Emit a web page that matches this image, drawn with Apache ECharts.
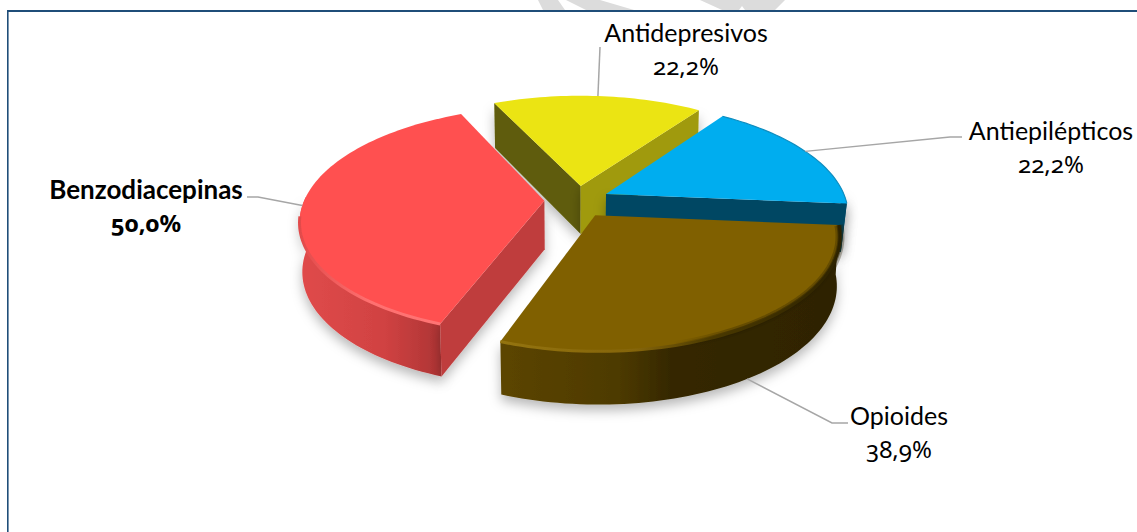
<!DOCTYPE html>
<html><head><meta charset="utf-8">
<style>
html,body{margin:0;padding:0;background:#fff}
#c{width:1137px;height:532px}
svg text{font-variant-numeric:oldstyle-nums !important;font-feature-settings:"onum" 1 !important}
</style>
<script src="https://cdn.jsdelivr.net/npm/echarts@6/dist/echarts.min.js"></script>
</head><body><div id="c"></div>
<script>
// ---- data (clockwise from the first slice) ----
const categories = ['Antiepilépticos','Opioides','Benzodiacepinas','Antidepresivos'];
const values = [22.2, 38.9, 50.0, 22.2];

// ---- view / style ----
const START = 35, CX = 578, CY = 200, A = 240, B = 110, KX = 0.17, KY = 0.17, KD = 0.08, DEPTH = 48.5;
const bottomX = [0.978, 0.988, 0.99, 0.99];
const explodeU = [0.13, 0.13, 0.14, 0.13];
const explodeV = [0.13, 0.16, 0.14, 0.13];
const radius = [1, 0.98, 1, 1];
const drawRank = [2, 4, 3, 1];
const topColor = ['#00adef','#806000','#ff5050','#ebe413'];
const startWall = [null,null,'#bf3c3c','#5e5c08'];
const endWall = ['#004763',null,null,'#a09a0e'];
const outerStops = [
  [[0,'#005e84'],[1,'#004763']],
  [[0,'#5c4500'],[0.35,'#4d3a00'],[0.5,'#352800'],[1,'#2e2300']],
  [[0,'#e04a4a'],[0.6,'#d04242'],[1,'#ad3434']],
  null
];
const rimStops = [
  [[0,'#0f8dbf'],[1,'#0f8dbf']],
  [[0,'#94740f'],[0.4,'#85650a'],[0.62,'#4a3900'],[1,'#2e2300']],
  [[0,'#e24a4a'],[0.5,'#ff7070'],[1,'#ff7474']],
  null
];
const labelBox = [
  {x:1051,y:130,elbow:[[950,137],[962,137]]},
  {x:899,y:415,elbow:[[832,423],[848,423]],low:true},
  {x:146,y:189,bold:true,elbow:[[258,197],[247,197]]},
  {x:686,y:32,elbow:[[600,47]]}
];
const LINE_H = 33, FONT = 'Lato, "Open Sans", sans-serif', VALUE_FONT = '"Noto Sans", "Open Sans", sans-serif', FONT_SIZE = 25;
const LG = echarts.graphic.LinearGradient;
const total = values.reduce((a,b)=>a+b,0);
function range(i){
  let s = START;
  for(let j=0;j<i;j++) s += values[j]/total*360;
  return [s, s+values[i]/total*360];
}
const rad = d => d*Math.PI/180;
function project(i, r, th, low){
  const [s,e] = range(i), m = rad((s+e)/2), t = rad(th);
  const u = explodeU[i]*Math.sin(m) + r*radius[i]*Math.sin(t);
  const v = -explodeV[i]*Math.cos(m) - r*radius[i]*Math.cos(t);
  const fx = 1/(1-KX*v), fy = 1/(1-KY*v);
  let x = CX + A*u*fx, y = CY + B*v*fy;
  if(low){ x = CX + (x-CX)*bottomX[i]; y += DEPTH/(1-KD*v); }
  return [x,y];
}
function arc(i, low, a0, a1){
  const p = [], n = Math.max(2, Math.ceil(Math.abs(a1-a0)/1.5));
  for(let k=0;k<=n;k++) p.push(project(i,1,a0+(a1-a0)*k/n,low));
  return p;
}
const shadow = {shadowBlur:12, shadowColor:'rgba(0,0,0,0.28)', shadowOffsetX:0, shadowOffsetY:6};
function renderSlice(params){
  const i = params.dataIndex, [s,e] = range(i), z = drawRank[i]*10;
  const kids = [];
  const apexT = project(i,0,s,false), apexB = project(i,0,s,true);
  const poly = (points, fill, extra, zz) => kids.push({type:'polygon', z2:z+zz, shape:{points}, style:Object.assign({fill}, extra||{})});
  const T = arc(i,false,s,e);
  // outer wall (front-facing part of the rim only)
  const w0 = Math.max(s,88), w1 = Math.min(e,272);
  if(outerStops[i] && w1>w0){
    const a = arc(i,false,w0,w1), b = arc(i,true,w0,w1);
    const xs = a.concat(b).map(p=>p[0]);
    const x0 = Math.min.apply(null,xs), x1 = Math.max.apply(null,xs);
    poly(a.concat(b.slice().reverse()), new LG(x0,0,x1,0,outerStops[i].map(o=>({offset:o[0],color:o[1]})),true), shadow, 0);
  }
  // radial walls
  if(startWall[i]) poly([apexT,project(i,1,s,false),project(i,1,s,true),apexB], startWall[i], shadow, 1);
  if(endWall[i]) poly([apexT,project(i,1,e,false),project(i,1,e,true),apexB], endWall[i], shadow, 2);
  // top face
  poly([apexT].concat(T), topColor[i], null, 3);
  // rim
  if(rimStops[i]){
    const from = Math.max(s, 30), to = Math.min(e, 262);
    const R = arc(i,false,from,to);
    const rx = R.map(p=>p[0]);
    const g = new LG(Math.min.apply(null,rx),0,Math.max.apply(null,rx),0,rimStops[i].map(o=>({offset:o[0],color:o[1]})),true);
    if(i===1){
      const D = arc(i,false,from,165), dx = D.map(p=>p[0]);
      const dx0 = Math.min.apply(null,dx), dx1 = Math.max.apply(null,dx);
      const fade = a => new LG(dx0,0,dx1,0,[{offset:0,color:'rgba(40,30,0,0)'},{offset:0.35,color:'rgba(40,30,0,'+a+')'},{offset:1,color:'rgba(40,30,0,'+a+')'}],true);
      kids.push({type:'polyline', z2:z+4, shape:{points:D}, style:{fill:null, stroke:fade(0.3), lineWidth:9}});
      kids.push({type:'polyline', z2:z+4.5, shape:{points:D}, style:{fill:null, stroke:fade(0.5), lineWidth:5}});
    }
    kids.push({type:'polyline', z2:z+5, shape:{points:R}, style:{fill:null, stroke:g, lineWidth:i===0?1.2:3}});
  }
  // leader + label
  const lb = labelBox[i], mid = (s+e)/2;
  const anchor = project(i,1,mid,!!lb.low);
  kids.push({type:'polyline', z2:60, shape:{points:[anchor].concat(lb.elbow)}, style:{fill:null, stroke:'#a6a6a6', lineWidth:1.5}});
  const txt = (t,y,fam,size) => kids.push({type:'text', z2:70, style:{text:t, x:lb.x, y, fill:'#000', align:'center', verticalAlign:'middle',
    textAlign:'center', textVerticalAlign:'middle', fontFamily:fam, fontSize:size, fontWeight:lb.bold?'bold':'normal'}});
  txt(categories[i], lb.y, FONT, lb.bold?26:FONT_SIZE);
  txt(values[i].toFixed(1).replace('.',',')+'%', lb.y+LINE_H, VALUE_FONT, FONT_SIZE-1);
  return {type:'group', children:kids};
}
const chart = echarts.init(document.getElementById('c'), null, {renderer:'svg'});
const wm = '#dcdcdc';
chart.setOption({
  animation:false,
  backgroundColor:'#fff',
  graphic:[
    {type:'polygon', silent:true, shape:{points:[[538,0],[558,0],[565,10],[543,10]]}, style:{fill:wm}},
    {type:'polygon', silent:true, shape:{points:[[566,0],[600,0],[634,10],[586,10]]}, style:{fill:wm}},
    {type:'polygon', silent:true, shape:{points:[[700,0],[785,0],[775,10],[745,10],[742,6],[739,10],[722,10]]}, style:{fill:wm}},
    {type:'rect', silent:true, shape:{x:7,y:10,width:1130,height:2}, style:{fill:'#1f4e79'}},
    {type:'rect', silent:true, shape:{x:7,y:10,width:1.6,height:522}, style:{fill:'#1f4e79'}}
  ],
  series:[{type:'custom', coordinateSystem:'none', silent:true, clip:false,
    renderItem:renderSlice,
    data:categories.map((n,i)=>({name:n,value:values[i]}))}]
});
</script></body></html>
